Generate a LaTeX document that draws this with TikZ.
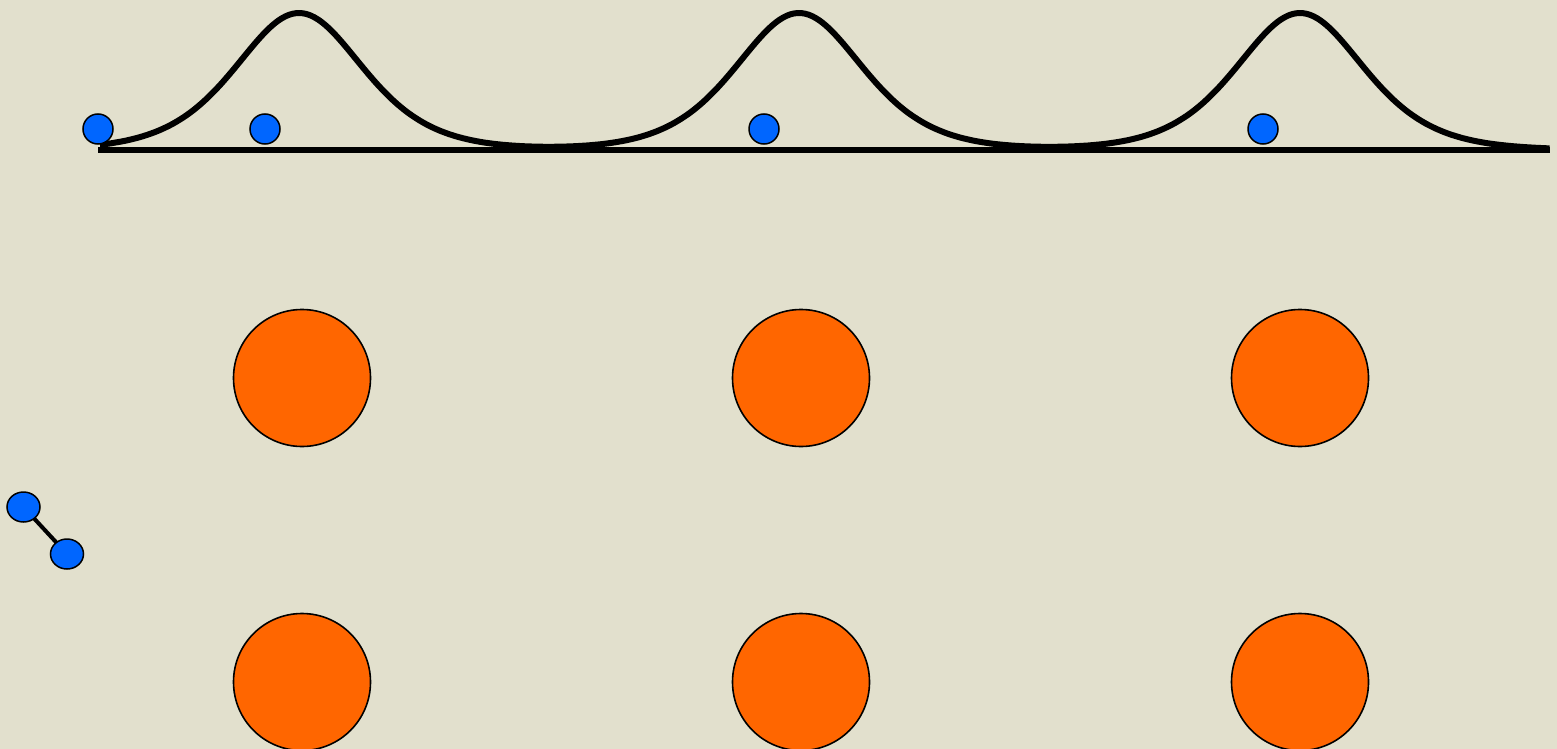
\documentclass[tikz,border=0pt]{standalone}
\usetikzlibrary{shapes.geometric}
\definecolor{bg}{HTML}{E2E0CD}
\definecolor{ballblue}{HTML}{0066FF}
\definecolor{ionorange}{HTML}{FF6600}
\pgfdeclarelayer{paper}
\pgfdeclarelayer{bonds}
\pgfsetlayers{paper,bonds,main}
\tikzset{
  electron/.style={circle, draw=black, line width=1.5pt, fill=ballblue, minimum size=30pt, inner sep=0pt},
  atomel/.style={ellipse, draw=black, line width=1.5pt, fill=ballblue, minimum width=33pt, minimum height=30pt, inner sep=0pt},
  ion/.style={circle, draw=black, line width=1.6pt, fill=ionorange, minimum size=137pt, inner sep=0pt},
  bond/.style={line width=4pt, black},
  potential/.style={line width=6pt, line join=round}
}
\begin{document}
\begin{tikzpicture}[x=1pt,y=-1pt]
\begin{pgfonlayer}{paper}
\fill[bg] (0,0) rectangle (1557,749);
\end{pgfonlayer}
\useasboundingbox (0,0) rectangle (1557,749);
% potential curve
\draw[line width=6.5pt] (98,150) -- (1550,150);
\draw[potential] plot[domain=1:15.5, samples=400, smooth]
 ({\x*100},
  {150 - 137*(
    4*exp(-min(2*abs((\x-2.99)/0.86),20))/(1+exp(-min(2*abs((\x-2.99)/0.86),20)))^2
  + 4*exp(-min(2*abs((\x-7.99)/0.86),20))/(1+exp(-min(2*abs((\x-7.99)/0.86),20)))^2
  + 4*exp(-min(2*abs((\x-13.00)/0.86),20))/(1+exp(-min(2*abs((\x-13.00)/0.86),20)))^2
  )});
% electrons
\node[electron] (e1) at (98,129) {};
\node[electron] (e2) at (265,129) {};
\node[electron] (e3) at (764,129) {};
\node[electron] (e4) at (1263,129) {};
% ions
\node[ion] (i1) at (302,378) {};
\node[ion] (i2) at (801,378) {};
\node[ion] (i3) at (1300,378) {};
\node[ion] (i4) at (302,682) {};
\node[ion] (i5) at (801,682) {};
\node[ion] (i6) at (1300,682) {};
% molecule
\node[atomel] (m1) at (23.5,507) {};
\node[atomel] (m2) at (67,554) {};
\begin{pgfonlayer}{bonds}
\draw[bond] (m1.center) -- (m2.center);
\end{pgfonlayer}
\end{tikzpicture}
\end{document}
